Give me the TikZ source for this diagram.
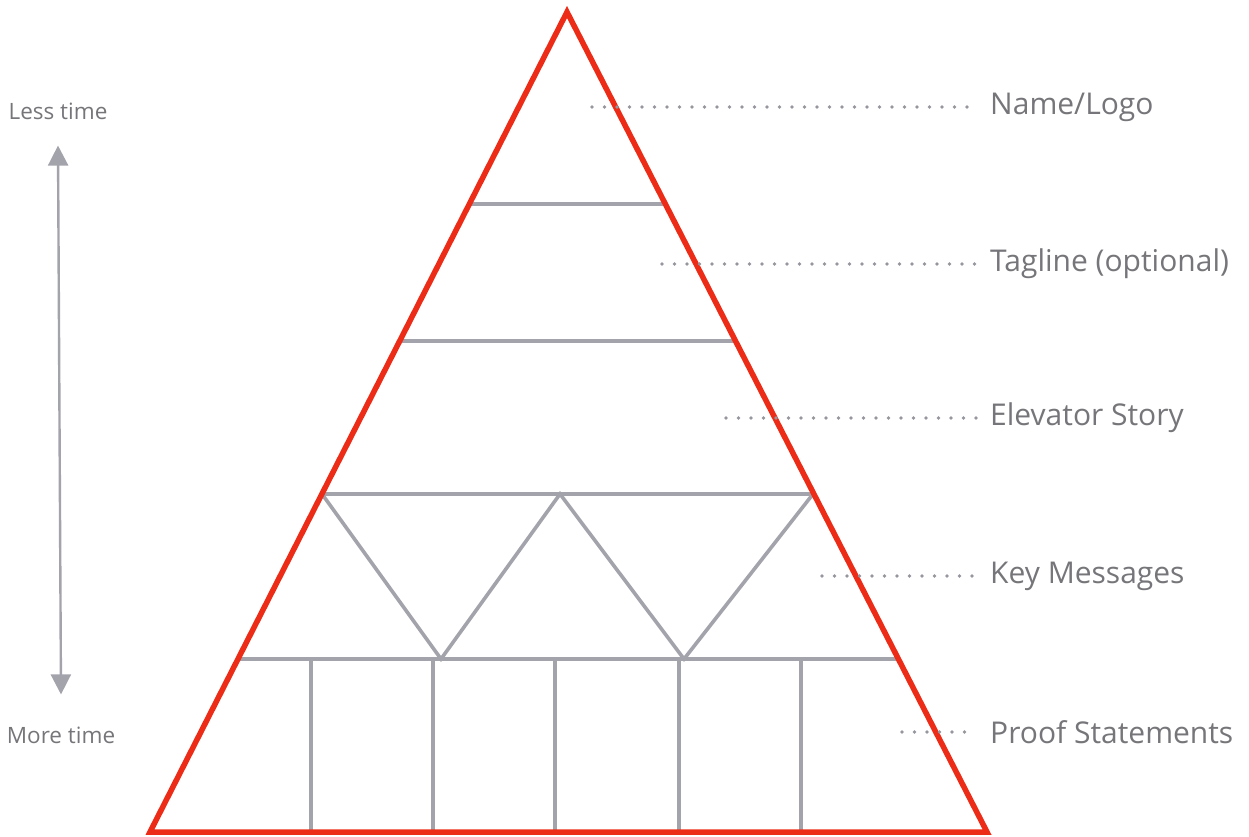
\documentclass[tikz,border=0pt]{standalone}
\usepackage{fontspec}
\setmainfont{Open Sans}
\usetikzlibrary{arrows.meta,calc}
\definecolor{pyred}{RGB}{236,44,22}
\definecolor{pygray}{RGB}{163,163,172}
\definecolor{txtgray}{RGB}{118,118,122}
\definecolor{dotgray}{RGB}{150,150,158}
\tikzset{
  redline/.style={draw=pyred,line width=5.5pt,line join=miter},
  grayline/.style={draw=pygray,line width=3.6pt},
  dotline/.style={draw=dotgray,line width=3.6pt,line cap=round,dash pattern=on 0pt off 12.5pt},
  lbl/.style={anchor=west,text=txtgray,font=\fontsize{30}{33}\selectfont,inner sep=0pt},
  sidelbl/.style={text=txtgray,font=\fontsize{22.5}{26}\selectfont,inner sep=0pt},
  timearrow/.style={draw=pygray,line width=2.4pt,{Triangle[length=20pt,width=20pt]}-{Triangle[length=20pt,width=20pt]}}
}
\begin{document}
\begin{tikzpicture}[x=1pt,y=-1pt]
\useasboundingbox (0,0) rectangle (1249,837);
% triangle corners
\coordinate (T) at (567,12);
\coordinate (L) at (150,832);
\coordinate (R) at (987,832);
% gray inner lines
\draw[grayline] (469,204) -- (665,204);
\draw[grayline] (400,341) -- (735,341);
\draw[grayline] (322,494) -- (813,494);
\draw[grayline] (238,659) -- (898,659);
\draw[grayline] (322,494) -- (441,659) -- (560,494) -- (684,659) -- (813,494);
\foreach \xx in {311,433,555,679,801} \draw[grayline] (\xx,659) -- (\xx,832);
% red triangle
\draw[redline] (T) -- (L) -- (R) -- cycle;
% labels
\node[lbl] (n1) at (990,107) {Name/Logo};
\node[lbl] (n2) at (990,264) {Tagline (optional)};
\node[lbl] (n3) at (990,418) {Elevator Story};
\node[lbl] (n4) at (990,576) {Key Messages};
\node[lbl] (n5) at (990,732) {Proof Statements};
\coordinate (d1) at (592,107);
\coordinate (d2) at (662,264);
\coordinate (d3) at (726,418);
\coordinate (d4) at (822,576);
\coordinate (d5) at (902,732);
\draw[dotline] (d1) -- ($(n1.west)+(-14,0)$);
\draw[dotline] (d2) -- ($(n2.west)+(-14,0)$);
\draw[dotline] (d3) -- ($(n3.west)+(-14,0)$);
\draw[dotline] (d4) -- ($(n4.west)+(-14,0)$);
\draw[dotline] (d5) -- ($(n5.west)+(-14,0)$);
% time arrow
\node[sidelbl] (less) at (58,111) {Less time};
\node[sidelbl] (more) at (61,735) {More time};
\draw[timearrow] ($(less.south)+(0,26)$) -- ($(more.north)+(0,-32)$);
\end{tikzpicture}
\end{document}
